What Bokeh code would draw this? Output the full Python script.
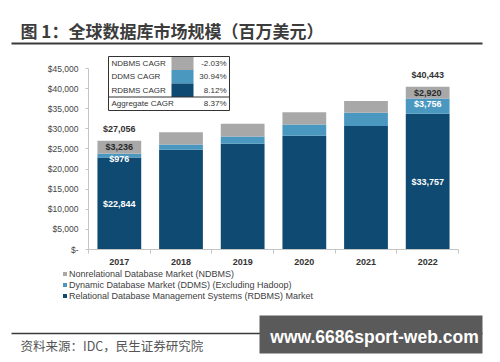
from bokeh.plotting import figure
from bokeh.models import (ColumnDataSource, FixedTicker, LabelSet, Range1d, LinearAxis,
                          Legend, LegendItem)
from bokeh.embed import file_html
from bokeh.resources import INLINE
from bokeh.core.properties import value

# ---------------- data ----------------
years = ["2017", "2018", "2019", "2020", "2021", "2022"]
rdbms = [22844, 24800, 26300, 28300, 30700, 33757]
ddms = [976, 1300, 1800, 2750, 3300, 3756]
ndbms = [3236, 3070, 3150, 3070, 2900, 2920]

total_labels = ["$27,056", "", "", "", "", "$40,443"]
ndbms_labels = ["$3,236", "", "", "", "", "$2,920"]
ddms_labels = ["$976", "", "", "", "", "$3,756"]
rdbms_labels = ["$22,844", "", "", "", "", "$33,757"]

series_names = [
    "Relational Database Management Systems (RDBMS) Market",
    "Dynamic Database Market (DDMS) (Excluding Hadoop)",
    "Nonrelational Database Market (NDBMS)",
]
cagr_names = ["NDBMS CAGR", "DDMS CAGR", "RDBMS CAGR", "Aggregate CAGR"]
cagr_values = ["-2.03%", "30.94%", "8.12%", "8.37%"]

y_ticks = [0, 5000, 10000, 15000, 20000, 25000, 30000, 35000, 40000, 45000]
y_tick_labels = ["$-", "$5,000", "$10,000", "$15,000", "$20,000", "$25,000",
                 "$30,000", "$35,000", "$40,000", "$45,000"]

title_text = "图 1：全球数据库市场规模（百万美元）"
source_text = "资料来源：IDC，民生证券研究院"
watermark_text = "www.6686sport-web.com"

# ---------------- style / geometry ----------------
NAVY = "#0e4a71"
MID = "#4a97bf"
GRAY = "#a8a8a8"
AXIS = "#c4c4c4"
FONT = "Liberation Sans"
CJK = "Noto Sans CJK SC"

W, H = 500, 362
CH_LEFT, CH_RIGHT = 88, 458     # plot area in page pixels
CH_BOTTOM, CH_TOP45 = 249, 68   # y=0 and y=45000 in page pixels
X_END = len(years)
PX_PER_X = (CH_RIGHT - CH_LEFT) / X_END
PX_PER_Y = (CH_BOTTOM - CH_TOP45) / y_ticks[-1]

p = figure(width=W, height=H, x_range=Range1d(0, W), y_range=Range1d(H, 0),
           x_axis_type=None, y_axis_type=None, min_border=0,
           toolbar_location=None, output_backend="svg")
p.outline_line_color = None
p.grid.visible = False
p.background_fill_color = "white"
p.border_fill_color = "white"

# chart coordinate system
p.extra_x_ranges["cx"] = Range1d(-CH_LEFT / PX_PER_X, (W - CH_LEFT) / PX_PER_X)
p.extra_y_ranges["cy"] = Range1d(-(H - CH_BOTTOM) / PX_PER_Y, CH_BOTTOM / PX_PER_Y)
ck = dict(x_range_name="cx", y_range_name="cy")

xs = [i + 0.5 for i in range(len(years))]
src = ColumnDataSource(dict(
    x=xs, rdbms=rdbms, ddms=ddms, ndbms=ndbms,
    top=[r + d + n for r, d, n in zip(rdbms, ddms, ndbms)],
    nd_mid=[r + d + n / 2 for r, d, n in zip(rdbms, ddms, ndbms)],
    dd_top=[r + d for r, d in zip(rdbms, ddms)],
    rd_mid=[r / 2 for r in rdbms],
    tl=total_labels, nl=ndbms_labels, dl=ddms_labels, rl=rdbms_labels,
))

rs = p.vbar_stack(["rdbms", "ddms", "ndbms"], x="x", width=0.71, color=[NAVY, MID, GRAY],
                  line_color=None, source=src, **ck)

# axes (fixed inside the canvas)
xa = LinearAxis(fixed_location=0, bounds=(0, X_END), **ck)
xa.ticker = FixedTicker(ticks=xs, minor_ticks=list(range(len(years) + 1)))
xa.major_label_overrides = {x: y for x, y in zip(xs, years)}
xa.axis_line_color = AXIS
xa.major_tick_line_color = None
xa.major_tick_out = 0
xa.major_tick_in = 0
xa.minor_tick_line_color = AXIS
xa.minor_tick_out = 4
xa.minor_tick_in = 0
xa.major_label_standoff = 5
xa.major_label_text_font = FONT
xa.major_label_text_font_size = "9px"
xa.major_label_text_font_style = "bold"
xa.major_label_text_color = "#333333"
p.add_layout(xa, "below")

ya = LinearAxis(fixed_location=0, bounds=(y_ticks[0], y_ticks[-1]), **ck)
ya.ticker = FixedTicker(ticks=y_ticks, minor_ticks=[])
ya.major_label_overrides = {t: l for t, l in zip(y_ticks, y_tick_labels)}
ya.axis_line_color = AXIS
ya.major_tick_line_color = AXIS
ya.major_tick_out = 3
ya.major_tick_in = 0
ya.minor_tick_line_color = None
ya.major_label_standoff = 7
ya.major_label_text_font = FONT
ya.major_label_text_font_size = "8.5px"
ya.major_label_text_color = "#444444"
p.add_layout(ya, "left")

# value labels
common = dict(x="x", source=src, text_align="center", text_font=value(FONT),
              text_font_size="9px", text_font_style="bold", **ck)
p.add_layout(LabelSet(y="top", text="tl", text_baseline="middle", y_offset=12,
                      text_color="#333333", **common))
p.add_layout(LabelSet(y="nd_mid", text="nl", text_baseline="middle",
                      text_color="#2a2a2a", **common))
p.add_layout(LabelSet(y="dd_top", text="dl", text_baseline="top", y_offset=0,
                      text_color="#ffffff", **common))
p.add_layout(LabelSet(y="rd_mid", text="rl", text_baseline="middle",
                      text_color="#ffffff", **common))

# CAGR table (page pixel coordinates)
row_edges = [56, 69.5, 83, 96.5, 110]
p.quad(left=171, right=193, top=row_edges[:3], bottom=row_edges[1:4],
       fill_color=[GRAY, MID, NAVY], line_color=None)
p.quad(left=108, right=229, top=row_edges[0], bottom=row_edges[-1],
       fill_color=None, line_color="#333333", line_width=1)
p.segment(x0=108, x1=229, y0=row_edges[3], y1=row_edges[3], line_color="#333333", line_width=1)
row_mid = [(a + b) / 2 for a, b in zip(row_edges[:-1], row_edges[1:])]
p.text(x=111, y=row_mid, text=cagr_names, text_font=value(FONT), text_font_size="8px",
       text_baseline="middle", text_color="#333333")
p.text(x=226, y=row_mid, text=cagr_values, text_font=value(FONT), text_font_size="8px",
       text_baseline="middle", text_align="right", text_color="#333333")

# legend below the chart (location measured from canvas bottom-left)
legend = Legend(items=[LegendItem(label=series_names[i], renderers=[rs[i]]) for i in (2, 1, 0)],
                location=(62, H - 301), orientation="vertical",
                glyph_width=5, glyph_height=5, label_height=11, label_standoff=2,
                spacing=0, padding=0, margin=0, border_line_color=None,
                background_fill_alpha=0, label_text_font=FONT, label_text_font_size="9px",
                label_text_color="#404040")
p.add_layout(legend, "center")

# title, rules, source, watermark (page pixel coordinates)
p.text(x=[20], y=[30], text=[title_text], text_font=value(CJK), text_font_style="bold",
       text_font_size="17px", text_baseline="middle", text_color="#3c3c3c")
p.line(x=[11, 482], y=[43, 43], line_width=2, line_color="#3a3a3a")
p.line(x=[11, 482], y=[333, 333], line_width=1.5, line_color="#3a3a3a")
p.text(x=[20], y=[345], text=[source_text], text_font=value(CJK), text_font_size="12.5px",
       text_baseline="middle", text_color="#555555")
p.quad(left=259, right=482, top=315, bottom=353, fill_color="#5a5a5a", line_color=None)
p.text(x=[374], y=[336], text=[watermark_text], text_font=value(FONT), text_font_style="bold",
       text_font_size="17.5px", text_align="center", text_baseline="middle",
       text_color="#ffffff")

open("out.html", "w").write(file_html(p, INLINE))
